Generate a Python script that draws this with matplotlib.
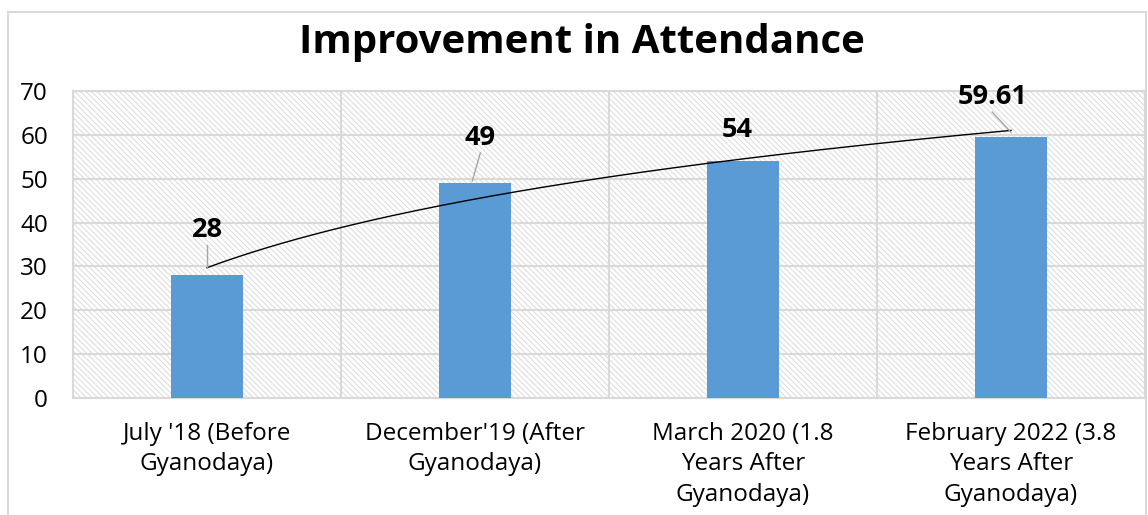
import numpy as np
import matplotlib
matplotlib.use('Agg')
import matplotlib.pyplot as plt
from matplotlib.patches import Rectangle

# chart data
categories = ["July '18 (Before\nGyanodaya)",
              "December'19 (After\nGyanodaya)",
              "March 2020 (1.8\nYears After\nGyanodaya)",
              "February 2022 (3.8\nYears After\nGyanodaya)"]
attendance = [28, 49, 54, 59.61]
value_labels = ['28', '49', '54', '59.61']
y_ticks = [0, 10, 20, 30, 40, 50, 60, 70]

# where each data label sits (x offset, y) and where its leader line ends
label_pos = [(0.0, 38.3), (0.02, 59.3), (-0.02, 61.0), (-0.07, 68.6)]
leader_end = [(0.0, 29.9), (-0.01, 49.5), None, (0.0, 60.6)]

GRID = '#D9D9D9'
BAR = '#5B9BD5'

plt.rcParams['font.family'] = ['Open Sans', 'DejaVu Sans']
plt.rcParams['hatch.linewidth'] = 0.7
plt.rcParams['hatch.color'] = '#DADADA'

fig = plt.figure(figsize=(11.48, 5.15), dpi=100)
ax = fig.add_axes([73 / 1148, 1 - 398 / 515, (1145 - 73) / 1148, (398 - 91) / 515])

# hatched plot background
ax.add_patch(Rectangle((0, 0), 1, 1, transform=ax.transAxes, facecolor='white',
                       edgecolor='#DADADA', hatch='\\\\\\\\\\\\', linewidth=0, zorder=0))

x = np.arange(len(categories))
ax.bar(x, attendance, width=0.27, color=BAR, zorder=3)

# log trend line fitted on the series
xs = x + 1
b, a = np.polyfit(np.log(xs), attendance, 1)
xt = np.linspace(1, len(categories), 200)
ax.plot(xt - 1, a + b * np.log(xt), color='black', lw=1, zorder=4)

for i, (txt, (dx, ly)) in enumerate(zip(value_labels, label_pos)):
    ax.text(i + dx, ly, txt, ha='center', va='center', fontsize=19.5,
            fontweight='bold', color='black', zorder=6)
    if leader_end[i] is not None:
        ex, ey = leader_end[i]
        ax.plot([i + dx, i + ex], [ly - 3.4, ey], color='#A6A6A6', lw=1, zorder=5)

ax.set_xlim(-0.5, len(categories) - 0.5)
ax.set_ylim(0, 70)
ax.set_yticks(y_ticks)
ax.set_xticks(x)
ax.set_xticklabels(categories, fontsize=17.5, linespacing=1.38)
ax.tick_params(axis='y', labelsize=17.5, length=0, pad=18)
ax.tick_params(axis='x', length=0, pad=17)

for yv in y_ticks[1:]:
    ax.axhline(yv, color=GRID, lw=1.5, zorder=1)
for xv in np.arange(0.5, len(categories) - 0.5, 1):
    ax.axvline(xv, color=GRID, lw=1.5, zorder=1)
for s in ax.spines.values():
    s.set_color(GRID)
    s.set_linewidth(1.5)

fig.text(0.507, 0.918, 'Improvement in Attendance', ha='center', va='center',
         fontsize=29, fontweight='bold')

# chart border
fig.patches.append(Rectangle((8 / 1148, -0.1), 1138 / 1148, 1.1 - 12 / 515,
                             transform=fig.transFigure, fill=False,
                             edgecolor=GRID, lw=1.5))

fig.savefig('out.png', dpi=100)
